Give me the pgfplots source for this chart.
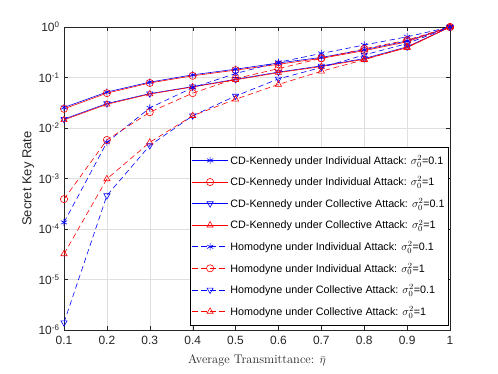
\documentclass[border=0pt]{standalone}
\usepackage{fontspec}
\setsansfont{Liberation Sans}
\usepackage{pgfplots}
\pgfplotsset{compat=1.18}

\definecolor{mblue}{RGB}{0,0,255}
\definecolor{mred}{RGB}{255,0,0}
\definecolor{axgray}{RGB}{38,38,38}

\begin{document}
\begin{tikzpicture}
\useasboundingbox (-64bp,-44bp) rectangle (434bp,330bp);
\begin{axis}[
  at={(0,0)}, anchor=south west,
  width=386bp, height=303bp, scale only axis,
  font=\sffamily,
  ymode=log, log basis y=10,
  xmin=0.1, xmax=1, ymin=1e-6, ymax=1,
  xtick={0.1,0.2,0.3,0.4,0.5,0.6,0.7,0.8,0.9,1},
  xticklabels={0.1,0.2,0.3,0.4,0.5,0.6,0.7,0.8,0.9,1},
  ytick={1e-6,1e-5,1e-4,1e-3,1e-2,1e-1,1},
  yticklabels={10\textsuperscript{-6},10\textsuperscript{-5},10\textsuperscript{-4},10\textsuperscript{-3},10\textsuperscript{-2},10\textsuperscript{-1},10\textsuperscript{0}},
  tick label style={font=\sffamily\fontsize{12}{14}\selectfont, text=axgray},
  xticklabel style={yshift=-3bp},
  yticklabel style={xshift=-1bp},
  xlabel={Average Transmittance: $\bar{\eta}$},
  ylabel={Secret Key Rate},
  xlabel style={font=\rmfamily\fontsize{12.5}{14}\selectfont, text=axgray,
    at={(axis description cs:0.5,0)}, anchor=center, yshift=-30bp},
  ylabel style={font=\sffamily\fontsize{13}{15}\selectfont, text=axgray,
    at={(axis description cs:-0.093,0.5)}, anchor=center},
  tick align=inside,
  axis line style={axgray, line width=0.5pt},
  tick style={axgray},
  major tick length=4bp, minor tick length=2bp,
  grid=both,
  major grid style={gray!25, line width=0.4pt},
  minor grid style={gray!40, dotted, line width=0.4pt},
  every axis plot/.append style={line width=0.6pt, mark size=3.6bp},
  legend cell align=left,
  legend image code/.code={\draw[mark repeat=2,mark phase=2] plot coordinates {(0bp,0bp) (18bp,0bp) (36bp,0bp)};},
  legend style={draw=black, line width=0.5pt, fill=white,
    font=\sffamily\fontsize{10.8}{12}\selectfont,
    at={(rel axis cs:0.997,0.0165)}, anchor=south east,
    row sep=7bp, inner xsep=2bp, inner ysep=6bp},
]
% CD-Kennedy, individual, sigma^2=0.1
\addplot[mblue, mark=asterisk] coordinates {
(0.1,0.0255) (0.2,0.0515) (0.3,0.081) (0.4,0.113) (0.5,0.146) (0.6,0.194) (0.7,0.25) (0.8,0.355) (0.9,0.53) (1,1)};
\addlegendentry{CD-Kennedy under Individual Attack: $\sigma_0^2$=0.1}
% CD-Kennedy, individual, sigma^2=1
\addplot[mred, mark=o] coordinates {
(0.1,0.024) (0.2,0.049) (0.3,0.078) (0.4,0.108) (0.5,0.14) (0.6,0.183) (0.7,0.24) (0.8,0.34) (0.9,0.51) (1,1)};
\addlegendentry{CD-Kennedy under Individual Attack: $\sigma_0^2$=1}
% CD-Kennedy, collective, sigma^2=0.1
\addplot[mblue, mark=triangle, mark options={rotate=180}] coordinates {
(0.1,0.015) (0.2,0.0305) (0.3,0.048) (0.4,0.066) (0.5,0.092) (0.6,0.128) (0.7,0.17) (0.8,0.237) (0.9,0.405) (1,1)};
\addlegendentry{CD-Kennedy under Collective Attack: $\sigma_0^2$=0.1}
% CD-Kennedy, collective, sigma^2=1
\addplot[mred, mark=triangle] coordinates {
(0.1,0.0145) (0.2,0.0295) (0.3,0.047) (0.4,0.065) (0.5,0.09) (0.6,0.125) (0.7,0.165) (0.8,0.23) (0.9,0.39) (1,1)};
\addlegendentry{CD-Kennedy under Collective Attack: $\sigma_0^2$=1}
% Homodyne, individual, sigma^2=0.1
\addplot[mblue, dash pattern=on 5.5bp off 3.5bp, mark=asterisk, mark options={solid}] coordinates {
(0.1,1.35e-4) (0.2,0.0052) (0.3,0.025) (0.4,0.063) (0.5,0.12) (0.6,0.2) (0.7,0.3) (0.8,0.44) (0.9,0.64) (1,1)};
\addlegendentry{Homodyne under Individual Attack: $\sigma_0^2$=0.1}
% Homodyne, individual, sigma^2=1
\addplot[mred, dash pattern=on 5.5bp off 3.5bp, mark=o, mark options={solid}] coordinates {
(0.1,3.9e-4) (0.2,0.0058) (0.3,0.0205) (0.4,0.049) (0.5,0.095) (0.6,0.15) (0.7,0.24) (0.8,0.37) (0.9,0.55) (1,1)};
\addlegendentry{Homodyne under Individual Attack: $\sigma_0^2$=1}
% Homodyne, collective, sigma^2=0.1
\addplot[mblue, dash pattern=on 5.5bp off 3.5bp, mark=triangle, mark options={solid, rotate=180}] coordinates {
(0.1,1.4e-6) (0.2,4.6e-4) (0.3,0.0045) (0.4,0.0175) (0.5,0.043) (0.6,0.094) (0.7,0.158) (0.8,0.28) (0.9,0.47) (1,1)};
\addlegendentry{Homodyne under Collective Attack: $\sigma_0^2$=0.1}
% Homodyne, collective, sigma^2=1
\addplot[mred, dash pattern=on 5.5bp off 3.5bp, mark=triangle, mark options={solid}] coordinates {
(0.1,3.2e-5) (0.2,9.8e-4) (0.3,0.0052) (0.4,0.0175) (0.5,0.037) (0.6,0.073) (0.7,0.133) (0.8,0.225) (0.9,0.40) (1,1)};
\addlegendentry{Homodyne under Collective Attack: $\sigma_0^2$=1}
\end{axis}
\end{tikzpicture}
\end{document}
